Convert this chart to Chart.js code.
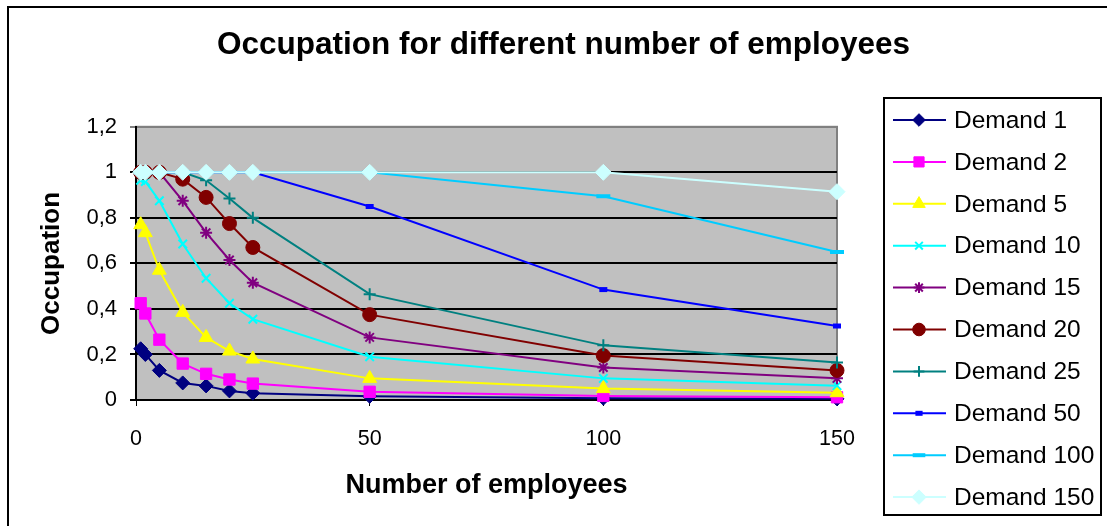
<!DOCTYPE html>
<html>
<head>
<meta charset="utf-8">
<script src="https://cdn.jsdelivr.net/npm/chart.js@4"></script>
<style>
  html, body { margin: 0; padding: 0; background: #fff; }
  #wrap { width: 1107px; height: 526px; }
</style>
</head>
<body>
<div id="wrap"><canvas id="occupation" width="1107" height="526"></canvas></div>
<script>
"use strict";

/* --- DATA --- */

const employees = [1, 2, 5, 10, 15, 20, 25, 50, 100, 150];

const demand_1   = [0.225, 0.2, 0.13, 0.075, 0.062, 0.04, 0.03, 0.016, 0.008, 0.005];
const demand_2   = [0.425, 0.38, 0.265, 0.16, 0.115, 0.09, 0.072, 0.036, 0.018, 0.012];
const demand_5   = [0.77, 0.735, 0.57, 0.385, 0.275, 0.215, 0.18, 0.095, 0.05, 0.032];
const demand_10  = [0.965, 0.96, 0.875, 0.685, 0.535, 0.425, 0.355, 0.19, 0.095, 0.063];
const demand_15  = [1, 1, 1, 0.875, 0.735, 0.615, 0.515, 0.275, 0.143, 0.095];
const demand_20  = [1, 1, 1, 0.97, 0.89, 0.775, 0.67, 0.375, 0.195, 0.13];
const demand_25  = [1, 1, 1, 1, 0.965, 0.885, 0.8, 0.465, 0.24, 0.165];
const demand_50  = [1, 1, 1, 1, 1, 1, 1, 0.85, 0.485, 0.325];
const demand_100 = [1, 1, 1, 1, 1, 1, 1, 1, 0.895, 0.65];
const demand_150 = [1, 1, 1, 1, 1, 1, 1, 1, 1, 0.915];

const series_labels = ['Demand 1', 'Demand 2', 'Demand 5', 'Demand 10', 'Demand 15',
  'Demand 20', 'Demand 25', 'Demand 50', 'Demand 100', 'Demand 150'];
const series_values = [demand_1, demand_2, demand_5, demand_10, demand_15,
  demand_20, demand_25, demand_50, demand_100, demand_150];

const x_ticks = [0, 50, 100, 150];
const y_ticks = [0, 0.2, 0.4, 0.6, 0.8, 1, 1.2];

/* --- STYLES --- */

const FONT = '"Liberation Sans", Arial, sans-serif';

const series_styles = [
  { color: '#000080', style: 'rectRot',  radius: 7, border: 1 },
  { color: '#FF00FF', style: 'rect',     radius: 8, border: 1 },
  { color: '#FFFF00', style: 'triangle', radius: 8, border: 1 },
  { color: '#00FFFF', style: 'crossRot', radius: 6, border: 2 },
  { color: '#800080', style: 'star',     radius: 6, border: 2 },
  { color: '#800000', style: 'circle',   radius: 7, border: 1 },
  { color: '#008080', style: 'cross',    radius: 6, border: 2 },
  { color: '#0000FF', style: 'line',     radius: 4, border: 5 },
  { color: '#00CCFF', style: 'line',     radius: 7, border: 4 },
  { color: '#CCFFFF', style: 'rectRot',  radius: 8, border: 1 }
];

const datasets = series_values.map((vals, i) => {
  const s = series_styles[i];
  return {
    label: series_labels[i],
    data: vals.map((v, j) => ({ x: employees[j], y: v })),
    borderColor: s.color,
    backgroundColor: s.color,
    borderWidth: 2,
    pointStyle: s.style,
    pointRadius: s.radius,
    pointBackgroundColor: s.color,
    pointBorderColor: s.color,
    pointBorderWidth: s.border,
    tension: 0,
    clip: false,
    order: series_values.length - i
  };
});

/* plot area background, frame and outer chart border */
const plot_frame = {
  id: 'plotFrame',
  beforeDraw(chart) {
    const { ctx, chartArea: a } = chart;
    ctx.save();
    ctx.fillStyle = '#fff';
    ctx.fillRect(0, 0, chart.width, chart.height);
    ctx.strokeStyle = '#000';
    ctx.lineWidth = 2;
    ctx.strokeRect(8, 7, 1200, 600);
    ctx.fillStyle = '#C0C0C0';
    ctx.fillRect(a.left, a.top, a.right - a.left, a.bottom - a.top);
    ctx.strokeStyle = '#808080';
    ctx.lineWidth = 2;
    ctx.strokeRect(a.left, a.top, a.right - a.left, a.bottom - a.top);
    ctx.restore();
  }
};

/* legend box with line + marker samples */
const legend_box = {
  id: 'legendBox',
  afterDraw(chart) {
    const ctx = chart.ctx;
    ctx.save();
    ctx.strokeStyle = '#000';
    ctx.lineWidth = 2;
    ctx.strokeRect(884, 98, 217, 417);
    chart.data.datasets.forEach((ds, i) => {
      const y = 120 + i * 41.9;
      ctx.strokeStyle = ds.borderColor;
      ctx.lineWidth = 2;
      ctx.beginPath();
      ctx.moveTo(893, y);
      ctx.lineTo(946, y);
      ctx.stroke();
      ctx.fillStyle = ds.pointBackgroundColor;
      ctx.strokeStyle = ds.pointBorderColor;
      ctx.lineWidth = ds.pointBorderWidth;
      Chart.helpers.drawPoint(ctx, {
        pointStyle: ds.pointStyle,
        radius: ds.pointRadius * 0.9,
        borderWidth: ds.pointBorderWidth,
        rotation: 0
      }, 919, y);
      ctx.fillStyle = '#000';
      ctx.font = '24.5px ' + FONT;
      ctx.textAlign = 'left';
      ctx.textBaseline = 'middle';
      ctx.fillText(ds.label, 954, y + 1);
    });
    ctx.restore();
  }
};

const fmt = (v) => String(Math.round(v * 10) / 10).replace('.', ',');

const occupation_chart = new Chart(document.getElementById('occupation'), {
  type: 'line',
  data: { datasets: datasets },
  plugins: [plot_frame, legend_box],
  options: {
    responsive: false,
    animation: false,
    layout: { padding: { top: 0, left: 20, right: 0, bottom: 20 } },
    plugins: {
      legend: { display: false },
      tooltip: { enabled: false },
      title: {
        display: true,
        text: 'Occupation for different number of employees',
        color: '#000',
        font: { family: FONT, size: 31.5, weight: 'bold' },
        padding: { top: 26, bottom: 63 }
      }
    },
    scales: {
      x: {
        type: 'linear',
        min: 0,
        max: 150,
        afterFit(scale) { scale.height = 106; },
        afterBuildTicks(scale) { scale.ticks = x_ticks.map(v => ({ value: v })); },
        ticks: {
          color: '#000',
          font: { family: FONT, size: 21.5 },
          padding: 20,
          maxRotation: 0
        },
        grid: { drawOnChartArea: false, drawTicks: true, tickLength: 6, color: '#000' },
        border: { color: '#000', width: 2 },
        title: {
          display: true,
          text: 'Number of employees',
          color: '#000',
          font: { family: FONT, size: 27, weight: 'bold' },
          padding: { top: 0, bottom: 4 }
        }
      },
      y: {
        min: 0,
        max: 1.2,
        afterFit(scale) { scale.width = 116; },
        afterBuildTicks(scale) { scale.ticks = y_ticks.map(v => ({ value: v })); },
        ticks: {
          color: '#000',
          font: { family: FONT, size: 22 },
          padding: 13,
          callback: (v) => fmt(v)
        },
        grid: {
          drawTicks: true,
          tickLength: 6,
          lineWidth: 2,
          color: (c) => (c.tick && c.tick.value >= 1.2 ? '#808080' : '#000')
        },
        border: { color: '#000', width: 2 },
        title: {
          display: true,
          text: 'Occupation',
          color: '#000',
          font: { family: FONT, size: 26, weight: 'bold' },
          padding: { top: 16, bottom: 0 }
        }
      },
      // empty right-hand axis that keeps the room for the legend box
      legendSpace: {
        type: 'linear',
        axis: 'y',
        position: 'right',
        display: true,
        afterFit(scale) { scale.width = 270; },
        ticks: { display: false },
        grid: { display: false, drawTicks: false },
        border: { display: false }
      }
    }
  }
});
</script>
</body>
</html>
